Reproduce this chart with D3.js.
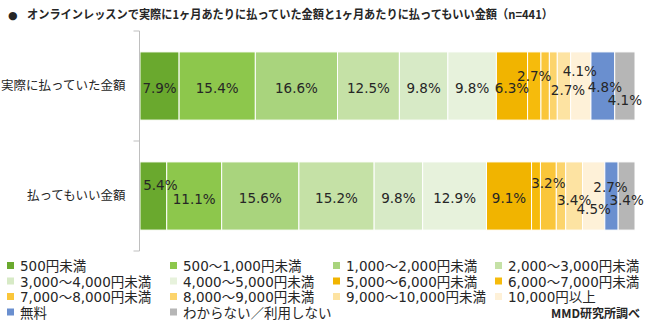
<!DOCTYPE html>
<html>
<head>
<meta charset="utf-8">
<script src="https://cdn.jsdelivr.net/npm/d3@7"></script>
<style>
  html, body { margin: 0; padding: 0; background: #fff; }
  svg { display: block; }
  text { font-family: "DejaVu Sans", "Noto Sans CJK JP", sans-serif; fill: #262626; }
</style>
</head>
<body>
<svg id="chart" width="651" height="329"></svg>
<script>
// Monthly spend on online lessons: actual vs. acceptable (share of respondents, %)
const title = "オンラインレッスンで実際に1ヶ月あたりに払っていた金額と1ヶ月あたりに払ってもいい金額（n=441）";
const rows = ["実際に払っていた金額", "払ってもいい金額"];
const bands = [
  "500円未満", "500～1,000円未満", "1,000～2,000円未満", "2,000～3,000円未満",
  "3,000～4,000円未満", "4,000～5,000円未満", "5,000～6,000円未満", "6,000～7,000円未満",
  "7,000～8,000円未満", "8,000～9,000円未満", "9,000～10,000円未満", "10,000円以上",
  "無料", "わからない／利用しない"
];
const actualPaid = [7.9, 15.4, 16.6, 12.5, 9.8, 9.8, 6.3, 2.7, 1.7, 1.6, 2.7, 4.1, 4.8, 4.1];
const willingToPay = [5.4, 11.1, 15.6, 15.2, 9.8, 12.9, 9.1, 1.8, 3.2, 1.9, 3.4, 4.5, 2.7, 3.4];
const source = "MMD研究所調べ";

const colors = [
  "#6aa92e", "#8dc74c", "#a9d47d", "#c5e1a6", "#d7eac6", "#e7f2dc",
  "#f1b400", "#f6bb0c", "#fac63a", "#fcd46c", "#fde3a2", "#fef1d8",
  "#6a8fcf", "#b6b6b6"
];

// label nudges [dx, dy] for the crowded small segments
const nudgeActual = {7: [0, -12], 10: [4, 2], 11: [-1, -17], 12: [2, -1], 13: [0, 12]};
const nudgeWilling = {0: [7, -13], 1: [0, 1], 8: [0, -15], 10: [0, 2], 11: [0, 11], 12: [-1, -11], 13: [0, 2]};

const seriesValues = [actualPaid, willingToPay];
const nudges = [nudgeActual, nudgeWilling];

const svg = d3.select("#chart");

// title
svg.append("text").attr("x", 8).attr("y", 19).style("font-size", "11px").text("●");
svg.append("text").attr("x", 27).attr("y", 19)
  .style("font-size", "12px").style("font-weight", "bold")
  .attr("textLength", 526).attr("lengthAdjust", "spacingAndGlyphs")
  .style("font-family", "'Noto Sans CJK JP', sans-serif")
  .text(title);

const x = d3.scaleLinear().domain([0, 100]).range([140, 635]);
const y = d3.scaleBand().domain(rows).range([31, 251]).paddingInner(0.38).paddingOuter(0.19);

// stacked segments
const stacked = seriesValues.map((vals, r) => {
  let acc = 0;
  return vals.map((v, i) => {
    const d = {row: rows[r], r, i, v, x0: acc, x1: acc + v};
    acc += v;
    return d;
  });
});

const g = svg.append("g");
stacked.forEach(segs => {
  g.selectAll(null).data(segs).enter().append("rect")
    .attr("x", d => x(d.x0))
    .attr("width", d => x(d.x1) - x(d.x0))
    .attr("y", d => y(d.row))
    .attr("height", y.bandwidth())
    .attr("fill", d => colors[d.i])
    .attr("stroke", "#fff")
    .attr("stroke-width", 1);
});

// value labels
stacked.forEach((segs, r) => {
  g.selectAll(null).data(segs.filter(d => d.v >= 2)).enter().append("text")
    .attr("x", d => (x(d.x0) + x(d.x1)) / 2 + (nudges[r][d.i] ? nudges[r][d.i][0] : 0))
    .attr("y", d => y(d.row) + y.bandwidth() / 2 + 2 + (nudges[r][d.i] ? nudges[r][d.i][1] : 0))
    .attr("text-anchor", "middle")
    .attr("dominant-baseline", "central")
    .style("font-size", "13.5px")
    .text(d => d.v.toFixed(1) + "%");
});

// category axis
const axis = d3.axisLeft(y).tickSize(0).tickPadding(14);
const ax = svg.append("g").attr("transform", "translate(139.5,0)").call(axis);
ax.select(".domain").attr("stroke", "#bfbfbf");
ax.selectAll(".tick text")
  .style("font-family", "'Noto Sans CJK JP', sans-serif")
  .style("font-size", "12.5px").attr("fill", "#262626");
// tick marks at band boundaries
const bounds = [y.range()[0], y.range()[0] + y.step(), y.range()[1]];
ax.selectAll(".bound").data(bounds).enter().append("line")
  .attr("x1", -6).attr("x2", 0).attr("y1", d => d).attr("y2", d => d)
  .attr("stroke", "#bfbfbf");
ax.select(".domain").attr("d", `M0,${y.range()[0]}V${y.range()[1]}`);

// legend
const colX = [7, 170, 333, 495];
const rowY = [266, 281.5, 297, 312.5];
const leg = svg.append("g");
bands.forEach((name, i) => {
  const cx = colX[i % 4], cy = rowY[Math.floor(i / 4)];
  leg.append("rect").attr("x", cx).attr("y", cy - 4).attr("width", 7).attr("height", 7).attr("fill", colors[i]);
  leg.append("text").attr("x", cx + 13).attr("y", cy).attr("dominant-baseline", "central")
    .style("font-size", "13.5px").text(name);
});

svg.append("text").attr("x", 640).attr("y", 312).attr("text-anchor", "end")
  .attr("dominant-baseline", "central")
  .style("font-family", "'Noto Sans CJK JP', sans-serif")
  .style("font-size", "12px").style("font-weight", "bold").text(source);
</script>
</body>
</html>
